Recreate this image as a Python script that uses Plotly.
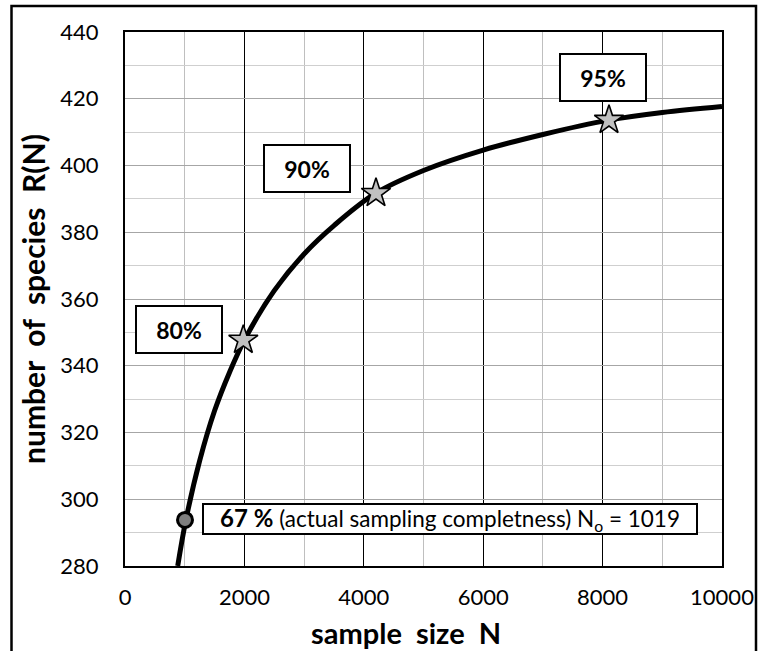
import plotly.graph_objects as go

# ---- data ----
N_curve = [883, 1019, 1250, 1500, 1750, 2000, 2500, 3000, 3500, 4200, 5000, 6000, 7000, 8100, 9000, 10000]
R_curve = [280, 293.7, 311.5, 326.5, 338, 347.7, 362.5, 373.5, 382, 391.7, 398.5, 404.6, 409.3, 413.6, 415.9, 417.7]

star_N = [1982, 4204, 8107]
star_R = [347.7, 391.7, 413.6]
star_labels = ["80%", "90%", "95%"]

actual_N = [1005]
actual_R = [293.8]

x_ticks = [0, 2000, 4000, 6000, 8000, 10000]
y_ticks = [280, 300, 320, 340, 360, 380, 400, 420, 440]

FONT = "Lato"

fig = go.Figure()

fig.add_trace(go.Scatter(
    x=N_curve, y=R_curve, mode="lines",
    line=dict(color="black", width=5, shape="spline", smoothing=1.0),
    hoverinfo="skip", showlegend=False, cliponaxis=True))

fig.add_trace(go.Scatter(
    x=star_N, y=star_R, mode="markers",
    marker=dict(symbol="star", size=22, color="#c0c0c0",
                line=dict(color="black", width=1.6)),
    showlegend=False))

fig.add_trace(go.Scatter(
    x=actual_N, y=actual_R, mode="markers",
    marker=dict(symbol="circle", size=15, color="#7f7f7f",
                line=dict(color="black", width=3)),
    showlegend=False))

# plot area geometry (pixels)
W, H = 758, 651
L, R, T, B = 125, 36, 32, 85
pw, ph = W - L - R, H - T - B

def px2paper_x(px):
    return (px - L) / pw

def px2paper_y(py):
    return (H - B - py) / ph

# outer frame
fig.add_shape(type="rect", xref="paper", yref="paper",
              x0=px2paper_x(11.5), x1=px2paper_x(756),
              y0=px2paper_y(700), y1=px2paper_y(6),
              line=dict(color="black", width=2.5), fillcolor="rgba(0,0,0,0)", layer="above")

box_font = dict(family=FONT, size=23, color="black")
label_pos = [(904, 351.0), (3049, 399.0), (8007, 426.4)]
for (ax, ay), txt in zip(label_pos, star_labels):
    fig.add_annotation(x=ax, y=ay, xref="x", yref="y", text="<b>%s</b>" % txt,
                       showarrow=False, font=box_font, bgcolor="white",
                       bordercolor="black", borderwidth=2, borderpad=0,
                       width=84, height=45, align="center", valign="middle")

fig.add_annotation(x=5436, y=294.2, xref="x", yref="y",
                   text="<b><span style='font-size:24px'>67 %</span></b> (actual sampling completness) N<sub>o</sub> = 1019",
                   showarrow=False, font=dict(family=FONT, size=22.5, color="black"),
                   bgcolor="white", bordercolor="black", borderwidth=2, borderpad=0,
                   width=492, height=28, align="center", valign="middle")

# x axis title (slightly left of the plot centre, as in the reference)
fig.add_annotation(x=px2paper_x(406), y=px2paper_y(632), xref="paper", yref="paper",
                   text="<b>sample\u00a0\u00a0size\u00a0\u00a0N</b>", showarrow=False,
                   font=dict(family=FONT, size=29, color="black"),
                   xanchor="center", yanchor="middle")

fig.update_layout(
    width=W, height=H,
    margin=dict(l=L, r=R, t=T, b=B, pad=0, autoexpand=False),
    paper_bgcolor="white", plot_bgcolor="white",
    font=dict(family=FONT, color="black"),
    showlegend=False,
    xaxis=dict(range=[0, 10000], tickvals=x_ticks, ticktext=[str(v) for v in x_ticks],
               automargin=False,
               showgrid=True, gridcolor="black", gridwidth=1,
               minor=dict(dtick=1000, showgrid=True, gridcolor="#bfbfbf", gridwidth=1, ticks=""),
               showline=True, linecolor="black", linewidth=2, mirror=True,
               ticks="outside", ticklen=11, tickcolor="rgba(0,0,0,0)",
               tickfont=dict(family=FONT, size=22, color="black"),
               zeroline=False),
    yaxis=dict(range=[280, 440], tickvals=y_ticks, ticktext=[str(v) for v in y_ticks],
               automargin=False,
               showgrid=True, gridcolor="#a6a6a6", gridwidth=1,
               minor=dict(dtick=10, showgrid=True, gridcolor="#cfcfcf", gridwidth=1, ticks=""),
               showline=True, linecolor="black", linewidth=2, mirror=True,
               ticks="outside", ticklen=20, tickcolor="rgba(0,0,0,0)",
               tickfont=dict(family=FONT, size=22, color="black"),
               zeroline=False,
               title=dict(text="<b>number\u00a0\u00a0of\u00a0\u00a0species\u00a0\u00a0R(N)</b>",
                          font=dict(family=FONT, size=30, color="black"), standoff=6)),
)

fig.write_html("out.html", config={"displayModeBar": False},
               post_script="document.body.style.margin='0px'; document.body.style.overflow='hidden';")
